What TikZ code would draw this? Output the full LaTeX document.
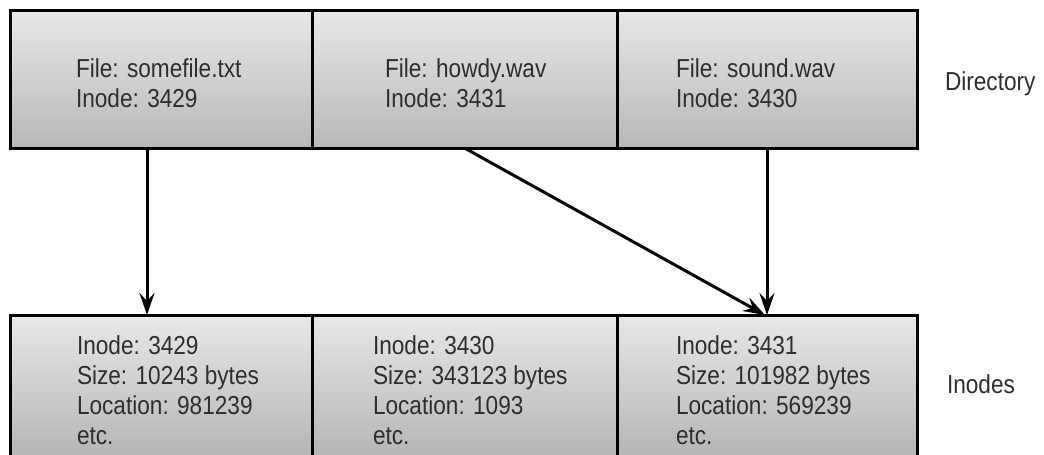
\documentclass[tikz,border=0pt]{standalone}
\usepackage{fontspec}
\setmainfont{Liberation Sans}[FakeStretch=0.87]
\usetikzlibrary{arrows.meta}
\tikzset{
  cell/.style={draw=black, line width=3pt, rectangle, inner sep=0pt, outer sep=0pt,
    anchor=north west, top color=black!9, bottom color=black!28},
  txt/.style={anchor=base west, inner sep=0pt, outer sep=0pt, align=left,
    text=black!82, font=\fontsize{26}{30}\selectfont},
  arr/.style={line width=3pt, -{Stealth[length=22pt,width=15pt,inset=8pt]}},
}
\begin{document}
\begin{tikzpicture}[x=1pt,y=-1pt]
\useasboundingbox (0,0) rectangle (1044,455);
\clip (0,0) rectangle (1044,455);
% directory row
\node[cell, minimum width=302pt, minimum height=138pt] (d1) at (10,10) {};
\node[cell, minimum width=305pt, minimum height=138pt] (d2) at (312,10) {};
\node[cell, minimum width=300pt, minimum height=138pt] (d3) at (617,10) {};
% inode row
\node[cell, minimum width=302pt, minimum height=170pt, bottom color=black!33] (i1) at (10,315) {};
\node[cell, minimum width=305pt, minimum height=170pt, bottom color=black!33] (i2) at (312,315) {};
\node[cell, minimum width=300pt, minimum height=170pt, bottom color=black!33] (i3) at (617,315) {};
% texts (base anchor = baseline of last line)
\node[txt] (t1) at (76,107) {File: somefile.txt\\Inode: 3429};
\node[txt] (t2) at (385,107) {File: howdy.wav\\Inode: 3431};
\node[txt] (t3) at (676,107) {File: sound.wav\\Inode: 3430};
\node[txt] (u1) at (77,444) {Inode: 3429\\Size: 10243 bytes\\Location: 981239\\etc.};
\node[txt] (u2) at (373,444) {Inode: 3430\\Size: 343123 bytes\\Location: 1093\\etc.};
\node[txt] (u3) at (676,444) {Inode: 3431\\Size: 101982 bytes\\Location: 569239\\etc.};
\node[txt] (ldir) at (945,90) {Directory};
\node[txt] (lino) at (947,393) {Inodes};
% arrows
\draw[arr] ([xshift=-14pt]d1.south) -- ([xshift=-14pt]i1.north);
\draw[arr] (d2.south) -- ([xshift=-2pt]i3.north);
\draw[arr] (d3.south) -- (i3.north);
\end{tikzpicture}
\end{document}
